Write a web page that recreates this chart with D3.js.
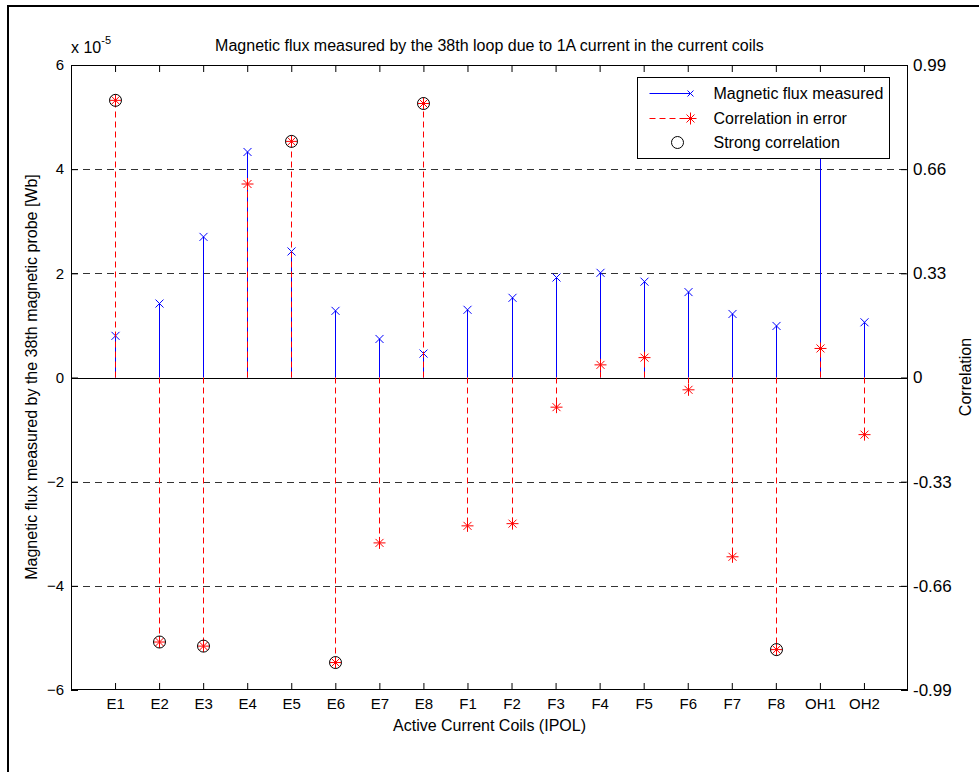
<!DOCTYPE html>
<html>
<head>
<meta charset="utf-8">
<script src="https://cdn.jsdelivr.net/npm/d3@7"></script>
<style>
body { margin: 0; background: #fff; }
text { font-family: "Liberation Sans", Arial, sans-serif; }
</style>
</head>
<body>
<div class="chart"></div>
<script>
var coils = ["E1","E2","E3","E4","E5","E6","E7","E8","F1","F2","F3","F4","F5","F6","F7","F8","OH1","OH2"]
// magnetic flux, in units of 1e-5 Wb
var flux = [0.80,1.42,2.70,4.33,2.42,1.28,0.74,0.46,1.30,1.53,1.92,2.01,1.84,1.64,1.22,0.99,4.90,1.06]
var correlation = [0.878,-0.838,-0.851,0.613,0.748,-0.903,-0.524,0.868,-0.470,-0.463,-0.094,0.040,0.063,-0.039,-0.568,-0.862,0.092,-0.181]
var strong = ["E1","E2","E3","E5","E6","E8","F8"]
var leftTicks = [-6,-4,-2,0,2,4,6]
var rightTicks = [-0.99,-0.66,-0.33,0,0.33,0.66,0.99]
var rightLabels = ["-0.99","-0.66","-0.33","0","0.33","0.66","0.99"]

var width = 979, height = 772

var svg = d3.select(".chart").append("svg")
    .attr("width", width)
    .attr("height", height)

svg.append("rect").attr("width", width).attr("height", height).attr("fill", "#fff")
// figure frame (right/bottom edges fall outside the window)
svg.append("rect").attr("x", 8).attr("y", 6).attr("width", 1000).attr("height", 1000)
    .attr("fill", "none").attr("stroke", "#000").attr("stroke-width", 2)

var x = d3.scaleLinear().domain([0, coils.length + 1]).range([71, 908])
var yL = d3.scaleLinear().domain([-6, 6]).range([690, 65])
var yR = d3.scaleLinear().domain([-0.99, 0.99]).range([690, 65])

function px(i) { return Math.round(x(i)) + 0.5 }

// grid
svg.append("g").selectAll("line")
    .data(rightTicks.filter(function(d) { return d != 0 && Math.abs(d) < 0.9; }))
    .enter().append("line")
    .attr("x1", 71).attr("x2", 908)
    .attr("y1", function(d) { return Math.round(yR(d)) + 0.5; })
    .attr("y2", function(d) { return Math.round(yR(d)) + 0.5; })
    .attr("stroke", "#333").attr("stroke-dasharray", "7,5")

// axes
var tickIdx = d3.range(1, coils.length + 1)
svg.append("g").attr("class", "xaxis")
    .attr("transform", "translate(0,690)")
    .call(d3.axisBottom(x).tickValues(tickIdx).tickFormat(function(d) { return coils[d-1]; })
        .tickSizeInner(-7).tickSizeOuter(0).tickPadding(8))
    .call(function(g) { g.select(".domain").remove(); })
svg.append("g")
    .attr("transform", "translate(0,65)")
    .call(d3.axisTop(x).tickValues(tickIdx).tickFormat("").tickSizeInner(-7).tickSizeOuter(0))
    .call(function(g) { g.select(".domain").remove(); })
svg.append("g").attr("class", "yleft")
    .attr("transform", "translate(71,0)")
    .call(d3.axisLeft(yL).tickValues(leftTicks).tickFormat(d3.format("d"))
        .tickSizeInner(-7).tickSizeOuter(0).tickPadding(7))
    .call(function(g) { g.select(".domain").remove(); })
svg.append("g").attr("class", "yright")
    .attr("transform", "translate(908,0)")
    .call(d3.axisRight(yR).tickValues(rightTicks).tickFormat(function(d, i) { return rightLabels[i]; })
        .tickSizeInner(-7).tickSizeOuter(0).tickPadding(5))
    .call(function(g) { g.select(".domain").remove(); })

svg.selectAll(".tick text").attr("fill", "#000").attr("font-family", null)
svg.selectAll(".tick line").attr("stroke", "#000")
svg.selectAll(".xaxis, .yleft, .yright").attr("font-family", null).attr("font-size", null)
svg.selectAll(".xaxis text").style("font-size", "15px")
svg.selectAll(".yleft text").style("font-size", "15px")
svg.selectAll(".yright text").style("font-size", "17px")

// box
svg.append("rect").attr("x", 71.5).attr("y", 65.5).attr("width", 836).attr("height", 624)
    .attr("fill", "none").attr("stroke", "#000")

// blue stems
var fluxG = svg.append("g")
fluxG.selectAll("line").data(flux).enter().append("line")
    .attr("x1", function(d, i) { return px(i + 1); })
    .attr("x2", function(d, i) { return px(i + 1); })
    .attr("y1", yL(0))
    .attr("y2", function(d) { return yL(d); })
    .attr("stroke", "#0000ff")
fluxG.selectAll("path").data(flux).enter().append("path")
    .attr("transform", function(d, i) { return "translate(" + px(i + 1) + "," + yL(d) + ")"; })
    .attr("d", "M-4,-4L4,4M-4,4L4,-4")
    .attr("stroke", "#0000ff").attr("fill", "none")

// baseline
svg.append("line").attr("x1", 71).attr("x2", 908).attr("y1", Math.round(yL(0)) + 0.5).attr("y2", Math.round(yL(0)) + 0.5).attr("stroke", "#000")

// red dashed stems
var starPath = "M-6,0L6,0M0,-6L0,6M-4,-4L4,4M-4,4L4,-4"
var corrG = svg.append("g")
corrG.selectAll("line").data(correlation).enter().append("line")
    .attr("x1", function(d, i) { return px(i + 1); })
    .attr("x2", function(d, i) { return px(i + 1); })
    .attr("y1", yR(0))
    .attr("y2", function(d) { return yR(d); })
    .attr("stroke", "#ff0000").attr("stroke-dasharray", "6,4")
corrG.selectAll("path").data(correlation).enter().append("path")
    .attr("transform", function(d, i) { return "translate(" + px(i + 1) + "," + yR(d) + ")"; })
    .attr("d", starPath)
    .attr("stroke", "#ff0000").attr("fill", "none")

// strong correlation circles
svg.append("g").selectAll("circle")
    .data(coils.map(function(c, i) { return {i: i, c: c}; }).filter(function(d) { return strong.indexOf(d.c) >= 0; }))
    .enter().append("circle")
    .attr("cx", function(d) { return px(d.i + 1); })
    .attr("cy", function(d) { return yR(correlation[d.i]); })
    .attr("r", 6)
    .attr("fill", "none").attr("stroke", "#000")

// titles
svg.append("text").attr("x", 489.5).attr("y", 51).attr("text-anchor", "middle")
    .style("font-size", "16px").text("Magnetic flux measured by the 38th loop due to 1A current in the current coils")
var exp = svg.append("text").attr("x", 71).attr("y", 53).style("font-size", "16px")
exp.append("tspan").text("x 10")
exp.append("tspan").attr("dy", -9).style("font-size", "11px").text("-5")
svg.append("text").attr("x", 489.5).attr("y", 731).attr("text-anchor", "middle")
    .style("font-size", "16px").text("Active Current Coils (IPOL)")
svg.append("text").attr("transform", "translate(37,377) rotate(-90)").attr("text-anchor", "middle")
    .style("font-size", "16px").text("Magnetic flux measured by the 38th magnetic probe [Wb]")
svg.append("text").attr("transform", "translate(971,377) rotate(-90)").attr("text-anchor", "middle")
    .style("font-size", "16px").text("Correlation")

// legend
var leg = svg.append("g").attr("transform", "translate(637.5,77.5)")
leg.append("rect").attr("width", 252).attr("height", 81).attr("fill", "#fff").attr("stroke", "#000")
leg.append("line").attr("x1", 12).attr("x2", 53).attr("y1", 16).attr("y2", 16).attr("stroke", "#0000ff")
leg.append("path").attr("transform", "translate(53,16)").attr("d", "M-3,-3L3,3M-3,3L3,-3").attr("stroke", "#0000ff")
leg.append("line").attr("x1", 12).attr("x2", 53).attr("y1", 41).attr("y2", 41).attr("stroke", "#ff0000").attr("stroke-dasharray", "6,4")
leg.append("path").attr("transform", "translate(53,41)").attr("d", starPath).attr("stroke", "#ff0000")
leg.append("circle").attr("cx", 40).attr("cy", 65).attr("r", 6).attr("fill", "none").attr("stroke", "#000")
var legText = ["Magnetic flux measured", "Correlation in error", "Strong correlation"]
leg.selectAll(".lt").data(legText).enter().append("text")
    .attr("x", 76)
    .attr("y", function(d, i) { return 16 + i * 24.5; })
    .attr("dy", "0.35em")
    .style("font-size", "16px")
    .text(function(d) { return d; })
</script>
</body>
</html>
